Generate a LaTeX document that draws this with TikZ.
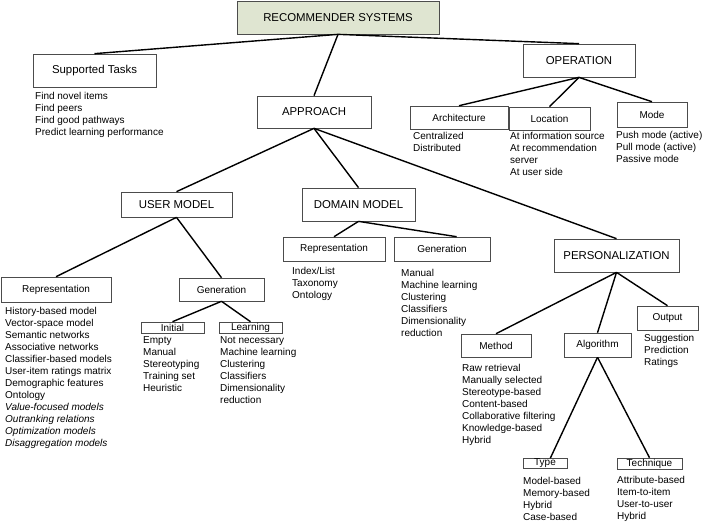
\documentclass[tikz,border=0pt]{standalone}
\usepackage{fontspec}
\setmainfont{Liberation Sans}
\usepackage{tikz}
\usepackage{xcolor}
\definecolor{rootfill}{HTML}{DFE5D1}

\begin{document}
\begin{tikzpicture}[x=1pt,y=-1pt,
  bigbox/.style={draw=black!70,line width=0.7pt,inner sep=0pt,font=\fontsize{11.4}{13}\selectfont},
  smallbox/.style={draw=black!70,line width=0.6pt,inner sep=0pt,font=\fontsize{10}{12}\selectfont},
  items/.style={anchor=north west,align=left,inner sep=0pt,font=\fontsize{10}{12}\selectfont},
  link/.style={line width=1.4pt}]
\useasboundingbox (0,0) rectangle (703,523);
% main boxes
\node[bigbox,fill=rootfill,minimum width=202,minimum height=33] (root) at (338,17.5) {RECOMMENDER SYSTEMS};
\foreach \n/\x/\y/\w/\h/\t in {tasks/94.5/70.5/123/33/{Supported Tasks}, approach/314/112/114/32/APPROACH,
  operation/579/60.5/112/33/OPERATION, umodel/176.5/204.5/111/25/{USER MODEL},
  dmodel/358.5/204.5/113/33/{DOMAIN MODEL}, pers/616.5/255.5/125/33/PERSONALIZATION}
  \node[bigbox,minimum width=\w,minimum height=\h] (\n) at (\x,\y) {\t};
% sub boxes
\foreach \n/\x/\y/\w/\h/\t in {arch/459/117.5/98/23/Architecture, loc/549.5/118.5/81/23/Location,
  mode/652/114.5/70/25/Mode, urep/56/289.5/110/25/Representation, ugen/221.5/289.5/85/23/Generation,
  init/172.5/327.5/63/11/Initial, learn/250.5/327.5/63/11/Learning, drep/334/249/102/24/Representation,
  dgen/442/249/96/24/Generation, method/496/345.5/70/23/Method, algo/597.5/345/67/24/Algorithm,
  output/667.5/318/61/24/Output, type/545/463.5/44/10/Type, tech/649.5/463.5/65/11/Technique}
  \node[smallbox,minimum width=\w,minimum height=\h] (\n) at (\x,\y) {\t};
% item lists
\foreach \n/\x/\y/\t in {
  taskslist/35/92.3/{Find novel items\\Find peers\\Find good pathways\\Predict learning performance},
  archlist/413/132.3/{Centralized\\Distributed},
  loclist/510/132.3/{At information source\\At recommendation\\server\\At user side},
  modelist/616/131.3/{Push mode (active)\\Pull mode (active)\\Passive mode},
  ureplist/5/307.3/{History-based model\\Vector-space model\\Semantic networks\\Associative networks\\Classifier-based models\\User-item ratings matrix\\Demographic features\\Ontology\\\textit{Value-focused models}\\\textit{Outranking relations}\\\textit{Optimization models}\\\textit{Disaggregation models}},
  initlist/143/336.3/{Empty\\Manual\\Stereotyping\\Training set\\Heuristic},
  learnlist/220/336.3/{Not necessary\\Machine learning\\Clustering\\Classifiers\\Dimensionality\\reduction},
  dreplist/292/267.3/{Index/List\\Taxonomy\\Ontology},
  dgenlist/401/269.3/{Manual\\Machine learning\\Clustering\\Classifiers\\Dimensionality\\reduction},
  outputlist/644/334.3/{Suggestion\\Prediction\\Ratings},
  methodlist/462/364.3/{Raw retrieval\\Manually selected\\Stereotype-based\\Content-based\\Collaborative filtering\\Knowledge-based\\Hybrid},
  typelist/523/477.3/{Model-based\\Memory-based\\Hybrid\\Case-based},
  techlist/617/476.3/{Attribute-based\\Item-to-item\\User-to-user\\Hybrid}}
  \node[items] (\n) at (\x,\y) {\t};
% tree links
\foreach \a/\b in {root/tasks, root/approach, root/operation, operation/arch, operation/loc, operation/mode,
  approach/umodel, approach/dmodel, approach/pers, umodel/urep, umodel/ugen, ugen/init, ugen/learn,
  dmodel/drep, pers/method, pers/algo, pers/output, algo/tech}
  \draw[link] (\a.south) -- (\b.north);
\draw[link] (dmodel.south) -- (dgen.40);
\draw[link] (algo.south) -- (type.45);
\end{tikzpicture}
\end{document}
